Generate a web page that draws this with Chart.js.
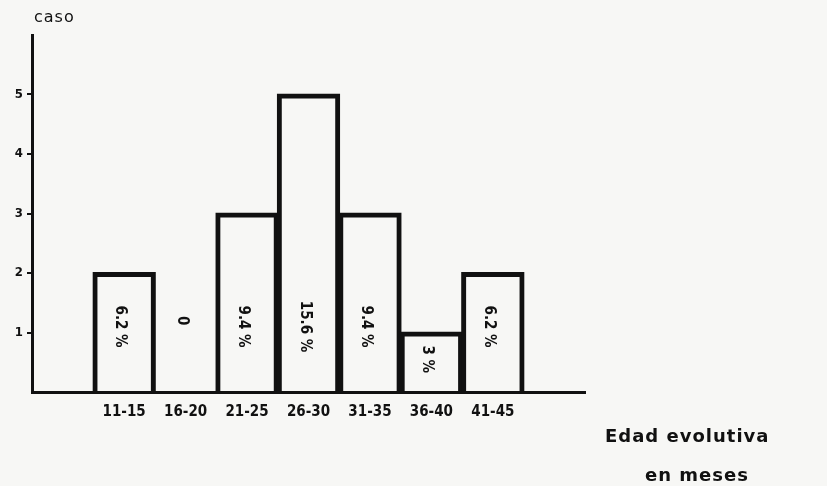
<!DOCTYPE html>
<html>
<head>
<meta charset="utf-8">
<script src="https://cdn.jsdelivr.net/npm/chart.js@4"></script>
<style>
  body { margin: 0; background: #f7f7f5; }
  #wrap { width: 827px; height: 486px; }
</style>
</head>
<body>
<div id="wrap"><canvas id="myChart" width="827" height="486"></canvas></div>
<script>
// grupos de edad (meses), el primero y el ultimo vacios para el espacio del eje
const categories = ['', '11-15', '16-20', '21-25', '26-30', '31-35', '36-40', '41-45', ''];
const casos = [null, 2, 0, 3, 5, 3, 1, 2, null];
const porcentajes = ['', '6.2 %', '0', '9.4 %', '15.6 %', '9.4 %', '3 %', '6.2 %', ''];
const yTicks = [1, 2, 3, 4, 5];

const fontMain = '"DejaVu Sans Condensed", "DejaVu Sans", sans-serif';
const fontWide = '"DejaVu Sans", sans-serif';

// texto girado dentro de las barras + titulos
const labelsPlugin = {
  id: 'labels',
  afterDatasetsDraw(chart) {
    const ctx = chart.ctx;
    const x = chart.scales.x, y = chart.scales.y;
    ctx.save();
    ctx.fillStyle = '#111';
    ctx.font = 'bold 15px ' + fontMain;
    ctx.textAlign = 'center';
    ctx.textBaseline = 'middle';
    porcentajes.forEach((txt, i) => {
      if (!txt) return;
      const v = casos[i];
      const at = v === 0 ? 1.2 : Math.min(v * 0.55, 1.1);
      ctx.save();
      ctx.translate(x.getPixelForValue(i) - 4, y.getPixelForValue(at));
      ctx.rotate(Math.PI / 2);
      ctx.fillText(txt, 0, 0);
      ctx.restore();
    });
    ctx.textAlign = 'left';
    ctx.letterSpacing = '1px';
    ctx.font = '16px ' + fontWide;
    ctx.fillText('caso', 34, 18);
    ctx.font = 'bold 18px ' + fontWide;
    ctx.fillText('Edad evolutiva', 605, 437);
    ctx.fillText('en meses', 645, 476);
    ctx.restore();
  }
};

new Chart(document.getElementById('myChart'), {
  type: 'bar',
  data: {
    labels: categories,
    datasets: [{
      data: casos,
      backgroundColor: 'rgba(0,0,0,0)',
      borderColor: '#111',
      borderWidth: 3,
      borderSkipped: 'bottom',
      inflateAmount: 1,
      categoryPercentage: 1,
      barPercentage: 1
    }]
  },
  options: {
    responsive: false,
    animation: false,
    layout: { padding: { top: 35, right: 242, left: 0, bottom: 0 } },
    plugins: { legend: { display: false }, tooltip: { enabled: false } },
    scales: {
      x: {
        border: { display: true, color: '#111', width: 3 },
        grid: { display: false },
        ticks: {
          color: '#111',
          font: { family: fontMain, size: 15, weight: 'bold' },
          maxRotation: 0,
          autoSkip: false,
          padding: 3
        },
        afterFit(scale) { scale.height = 94; }
      },
      y: {
        min: 0,
        max: 6,
        border: { display: true, color: '#111', width: 3 },
        grid: { drawOnChartArea: false, drawTicks: true, tickLength: 5, tickColor: '#111', lineWidth: 2 },
        afterBuildTicks(scale) { scale.ticks = yTicks.map(v => ({ value: v })); },
        ticks: {
          color: '#111',
          font: { family: fontMain, size: 13, weight: 'bold' },
          padding: 4
        },
        afterFit(scale) { scale.width = 32; }
      }
    }
  },
  plugins: [labelsPlugin]
});
</script>
</body>
</html>
